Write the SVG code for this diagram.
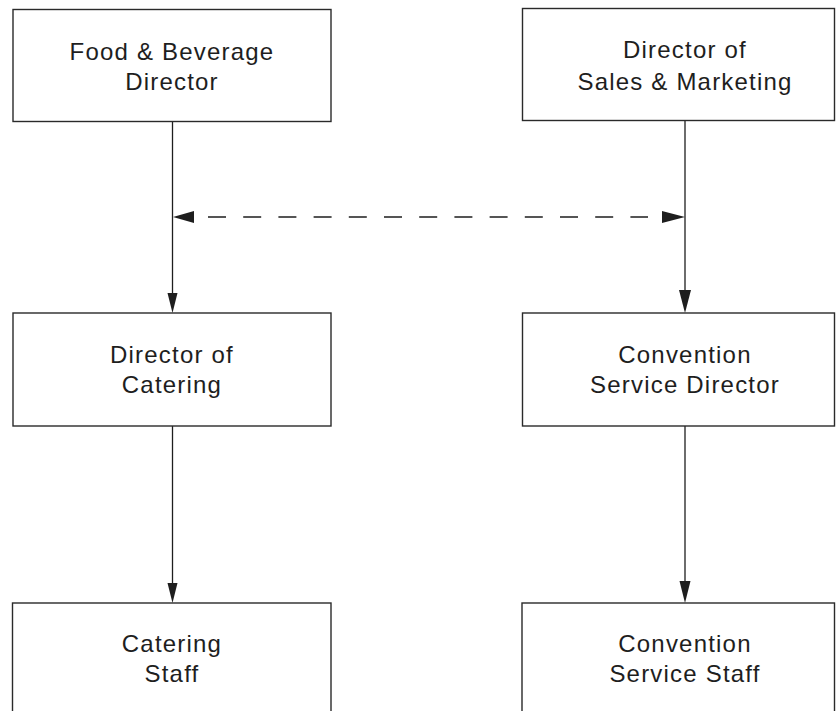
<svg xmlns="http://www.w3.org/2000/svg" width="836" height="711" viewBox="0 0 836 711">
  <style>
    .box { fill: #ffffff; stroke: #2a2a2a; stroke-width: 1.4; }
    .lbl { font-family: "Liberation Sans", Arial, Helvetica, sans-serif; font-size: 24px; letter-spacing: 1.2px; fill: #1e1e1e; text-anchor: middle; }
    .conn { stroke: #1e1e1e; stroke-width: 1.3; fill: none; }
    .dash { stroke: #1e1e1e; stroke-width: 1.6; fill: none; stroke-dasharray: 18 17.2; }
    .head { fill: #1e1e1e; stroke: none; }
  </style>
  <rect width="836" height="711" fill="#ffffff"/>

  <g id="connectors">
    <line class="conn" x1="172.5" y1="122" x2="172.5" y2="300"/>
    <polygon class="head" points="167.5,293 177.5,293 172.5,313"/>
    <line class="conn" x1="685" y1="120" x2="685" y2="296"/>
    <polygon class="head" points="679,290 691,290 685,313"/>
    <line class="conn" x1="172.5" y1="426" x2="172.5" y2="590"/>
    <polygon class="head" points="167.5,583 177.5,583 172.5,603"/>
    <line class="conn" x1="685" y1="426" x2="685" y2="588"/>
    <polygon class="head" points="679.5,581 690.5,581 685,603"/>
    <line class="dash" x1="208" y1="217" x2="648" y2="217"/>
    <polygon class="head" points="173,217 194,211 194,223"/>
    <polygon class="head" points="685,217 662,211 662,223"/>
  </g>

  <g id="food-beverage-director">
    <rect class="box" x="13" y="9.5" width="318" height="112"/>
    <text class="lbl" x="172" y="60">Food &amp; Beverage</text>
    <text class="lbl" x="172" y="90">Director</text>
  </g>

  <g id="director-sales-marketing">
    <rect class="box" x="522.5" y="8.5" width="312" height="112"/>
    <text class="lbl" x="685" y="58">Director of</text>
    <text class="lbl" x="685" y="90">Sales &amp; Marketing</text>
  </g>

  <g id="director-catering">
    <rect class="box" x="13" y="313" width="318" height="113"/>
    <text class="lbl" x="172" y="363">Director of</text>
    <text class="lbl" x="172" y="393">Catering</text>
  </g>

  <g id="convention-service-director">
    <rect class="box" x="522.5" y="313" width="312" height="113"/>
    <text class="lbl" x="685" y="363">Convention</text>
    <text class="lbl" x="685" y="393">Service Director</text>
  </g>

  <g id="catering-staff">
    <rect class="box" x="12.5" y="603" width="318.5" height="130"/>
    <text class="lbl" x="172" y="652">Catering</text>
    <text class="lbl" x="172" y="682">Staff</text>
  </g>

  <g id="convention-service-staff">
    <rect class="box" x="522" y="603" width="312.5" height="130"/>
    <text class="lbl" x="685" y="652">Convention</text>
    <text class="lbl" x="685" y="682">Service Staff</text>
  </g>
</svg>
